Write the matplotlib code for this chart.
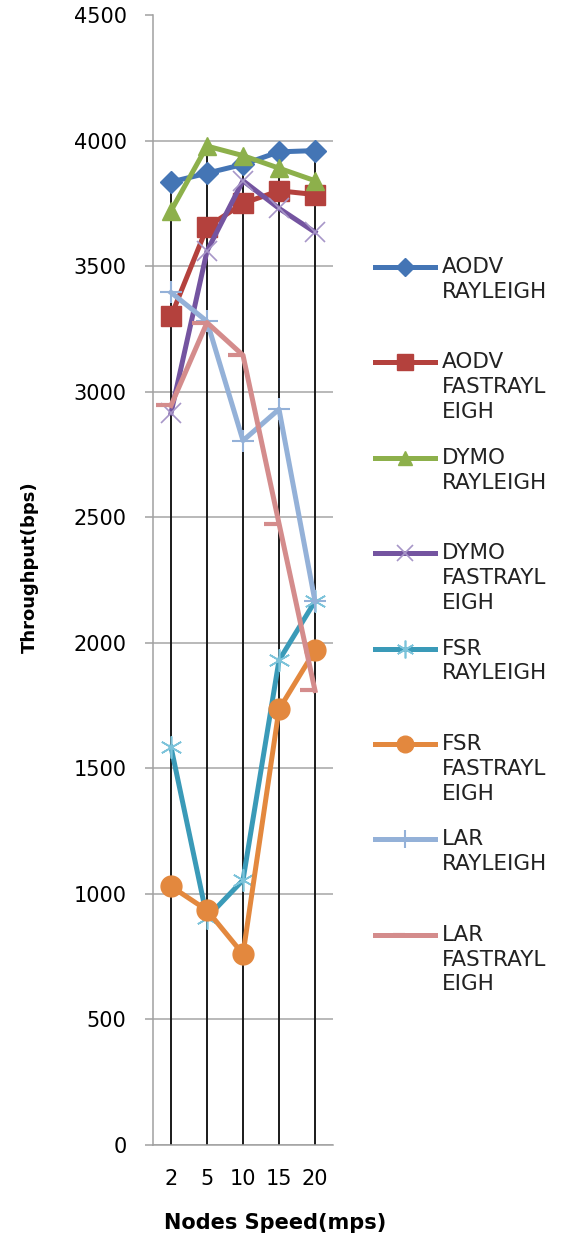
import matplotlib.pyplot as plt

speeds = ["2", "5", "10", "15", "20"]

aodv_ray = [3835, 3870, 3905, 3955, 3960]
aodv_fast = [3300, 3655, 3750, 3800, 3785]
dymo_ray = [3720, 3978, 3940, 3890, 3840]
dymo_fast = [2915, 3560, 3840, 3730, 3635]
fsr_ray = [1585, 905, 1055, 1930, 2165]
fsr_fast = [1030, 935, 760, 1735, 1970]
lar_ray = [3395, 3280, 2805, 2930, 2165]
lar_fast = [2945, 3275, 3145, 2475, 1810]

names = ["AODV\nRAYLEIGH", "AODV\nFASTRAYL\nEIGH", "DYMO\nRAYLEIGH",
         "DYMO\nFASTRAYL\nEIGH", "FSR\nRAYLEIGH", "FSR\nFASTRAYL\nEIGH",
         "LAR\nRAYLEIGH", "LAR\nFASTRAYL\nEIGH"]
series = [aodv_ray, aodv_fast, dymo_ray, dymo_fast, fsr_ray, fsr_fast, lar_ray, lar_fast]

# line colour, marker, marker size, marker face, marker edge, edge width
styles = [
    ("#4475b5", "D", 11, "#4475b5", "#4475b5", 1),
    ("#b4413d", "s", 14, "#b4413d", "#b4413d", 1),
    ("#8db04b", "^", 13, "#8db04b", "#8db04b", 1),
    ("#7454a0", "x", 14, "none", "#a796c8", 1.2),
    ("#3a9ab8", (6, 2, 0), 16, "none", "#7cc3da", 1.2),
    ("#e3883e", "o", 15, "#e3883e", "#e3883e", 1),
    ("#94b1d8", "+", 16, "none", "#94b1d8", 1.5),
    ("#d48c8c", 0, 11, "none", "#d48c8c", 3),
]

fig = plt.figure(figsize=(5.76, 12.36), dpi=100)
ax = fig.add_axes([153 / 576, 1 - 1145 / 1236, 180 / 576, 1130 / 1236])

x = list(range(len(speeds)))

# drop lines from the highest value at each speed down to zero
tops = [max(s[i] for s in series) for i in x]
ax.vlines(x, 0, tops, color="#1a1a1a", lw=1.4, zorder=2)

for s, st in zip(series, styles):
    col, mk, ms, mfc, mec, mew = st
    ax.plot(x, s, color=col, lw=3.6, marker=mk, markersize=ms,
            markerfacecolor=mfc, markeredgecolor=mec, markeredgewidth=mew,
            zorder=3)

ax.set_xlim(-0.5, 4.5)
ax.set_ylim(0, 4500)
ax.set_yticks(range(0, 4501, 500))
ax.set_xticks(x)
ax.set_xticklabels(speeds)
ax.tick_params(axis="y", length=6, width=1.1, color="#a0a0a0", pad=13, labelsize=15)
ax.tick_params(axis="x", length=0, pad=17, labelsize=15)
for sp in ["top", "right"]:
    ax.spines[sp].set_visible(False)
for sp in ["left", "bottom"]:
    ax.spines[sp].set_color("#a0a0a0")
    ax.spines[sp].set_linewidth(1.1)
ax.grid(axis="y", color="#a6a6a6", lw=1.1, zorder=1)
ax.get_ygridlines()[-1].set_visible(False)
ax.set_axisbelow(True)

fig.text(275 / 576, 1 - 1223 / 1236, "Nodes Speed(mps)", ha="center", va="center",
         fontsize=15, fontweight="bold")
fig.text(30 / 576, 1 - 567 / 1236, "Throughput(bps)", ha="center", va="center",
         rotation=90, fontsize=13, fontweight="bold")

# legend drawn on an overlay in pixel units
lax = fig.add_axes([0, 0, 1, 1])
lax.set_xlim(0, 576)
lax.set_ylim(1236, 0)
lax.axis("off")
for i, (name, st) in enumerate(zip(names, styles)):
    col, mk, ms, mfc, mec, mew = st
    y = 267 + i * 95.4
    lax.plot([375, 405, 435], [y, y, y], color=col, lw=3.6, marker=mk, markersize=ms * 0.8,
             markerfacecolor=mfc, markeredgecolor=mec, markeredgewidth=mew, markevery=[1])
    lax.text(442, y - 10, name, fontsize=15.5, va="top", ha="left", linespacing=1.3,
             color="#222222")

fig.savefig("out.png", dpi=100)
